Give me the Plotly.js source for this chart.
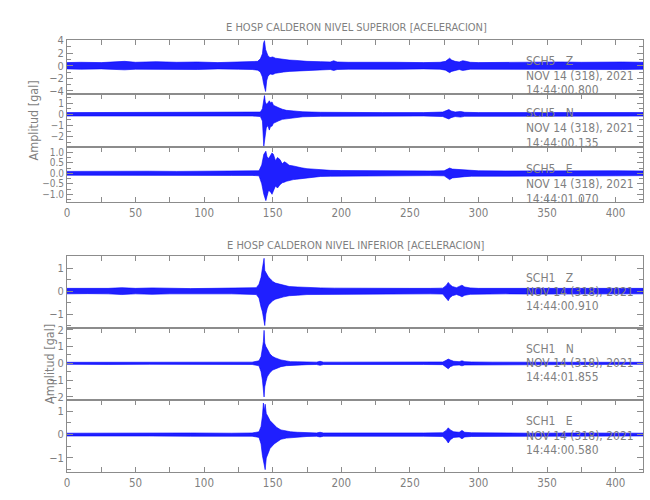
<!DOCTYPE html>
<html>
<head>
<meta charset="utf-8">
<script src="https://cdn.plot.ly/plotly-3.0.1.min.js"></script>
<style>html,body{margin:0;padding:0;background:#fff;}</style>
</head>
<body>
<div id="chart" style="width:650px;height:500px;"></div>
<script>
// ---- Data: envelope (upper / lower extremes) of each trace ----
// SCH5 Z
var t1 = [0,10,25,38,42,50,65,80,95,110,125,135,139,141,142.5,143.3,144,144.8,145.6,146.5,148,150,152,155,158,162,167,175,185,192,194.5,197,205,220,240,260,272,276,278,279,280.5,283,286,288.5,290,294,300,315,330,345,360,375,390,405,420];
var up1 = [0.5,0.55,0.5,0.6,0.7,0.55,0.65,0.55,0.6,0.5,0.55,0.6,0.7,1.1,1.9,3.6,4.0,2.6,2.0,1.6,1.3,1.4,1.2,1.1,1.0,0.9,0.85,0.7,0.65,0.6,0.8,0.6,0.55,0.5,0.55,0.5,0.55,0.7,1.0,1.2,0.9,0.7,0.6,0.8,0.75,0.55,0.5,0.55,0.5,0.55,0.6,0.55,0.6,0.6,0.55];
var lo1 = [-0.5,-0.55,-0.5,-0.6,-0.65,-0.55,-0.6,-0.55,-0.6,-0.5,-0.55,-0.6,-0.7,-1.0,-1.8,-2.8,-3.6,-4.1,-2.4,-1.7,-1.3,-1.4,-1.2,-1.05,-1.0,-0.9,-0.8,-0.7,-0.65,-0.6,-0.75,-0.6,-0.55,-0.5,-0.55,-0.5,-0.55,-0.7,-1.0,-1.1,-0.9,-0.7,-0.6,-0.75,-0.7,-0.55,-0.5,-0.55,-0.5,-0.55,-0.6,-0.55,-0.6,-0.6,-0.55];
// SCH5 N
var t2 = [0,20,40,60,80,100,120,135,141,142.5,143.5,144,144.6,145.3,146.5,147.5,148.5,149.5,150.5,152,154,157,160,165,172,185,200,230,260,274,277,278.5,280,283,287,290,300,330,360,390,420];
var up2 = [0.15,0.15,0.17,0.15,0.15,0.17,0.15,0.15,0.2,0.5,1.2,1.66,1.1,0.9,1.0,1.2,1.0,1.1,0.8,0.7,0.6,0.45,0.35,0.3,0.22,0.18,0.16,0.15,0.15,0.2,0.35,0.42,0.3,0.2,0.25,0.18,0.15,0.15,0.16,0.17,0.16];
var lo2 = [-0.15,-0.15,-0.17,-0.15,-0.15,-0.17,-0.15,-0.15,-0.2,-0.6,-2.85,-2.2,-1.8,-1.2,-1.0,-1.4,-1.05,-1.06,-0.8,-0.7,-0.6,-0.45,-0.35,-0.3,-0.22,-0.18,-0.16,-0.15,-0.15,-0.2,-0.35,-0.42,-0.3,-0.2,-0.25,-0.18,-0.15,-0.15,-0.16,-0.17,-0.16];
// SCH5 E
var t3 = [0,20,40,60,80,100,120,135,140,142,143.5,145,145.8,147,148.5,149.5,150.5,152,153.5,155.3,157,158.5,160,162,165,167.5,171,175,180,185,192,200,215,240,265,275,277.5,279,281,285,290,295,300,320,340,360,380,400,420];
var up3 = [0.09,0.1,0.09,0.1,0.09,0.1,0.1,0.1,0.12,0.4,0.9,1.05,0.8,0.7,0.85,0.97,0.9,0.6,0.75,0.65,0.45,0.55,0.49,0.38,0.35,0.3,0.26,0.22,0.2,0.15,0.14,0.13,0.12,0.11,0.11,0.12,0.2,0.25,0.2,0.18,0.16,0.14,0.12,0.11,0.12,0.11,0.12,0.12,0.11];
var lo3 = [-0.09,-0.1,-0.09,-0.1,-0.09,-0.1,-0.1,-0.1,-0.12,-0.5,-1.0,-1.3,-1.1,-0.8,-0.9,-1.0,-0.85,-0.6,-0.7,-0.54,-0.45,-0.42,-0.38,-0.33,-0.3,-0.28,-0.24,-0.2,-0.18,-0.15,-0.14,-0.13,-0.12,-0.11,-0.11,-0.12,-0.22,-0.3,-0.22,-0.18,-0.16,-0.14,-0.12,-0.11,-0.12,-0.11,-0.12,-0.12,-0.11];
// SCH1 Z
var t4 = [0,15,30,40,50,62,75,90,105,120,132,138,140,141.5,142.5,143.2,143.7,144.2,145,146,147,148,150,152,155,158,162,168,175,185,195,210,230,250,265,274,276.5,278,279,281,284,286.5,288,290,294,300,320,340,360,380,400,420];
var up4 = [0.12,0.11,0.12,0.15,0.12,0.14,0.12,0.11,0.12,0.12,0.13,0.15,0.3,0.6,1.0,1.2,1.43,0.9,0.8,0.7,0.6,0.55,0.42,0.35,0.3,0.25,0.2,0.18,0.15,0.14,0.13,0.12,0.12,0.12,0.12,0.13,0.25,0.38,0.3,0.2,0.15,0.2,0.26,0.18,0.14,0.12,0.12,0.13,0.12,0.13,0.13,0.12];
var lo4 = [-0.12,-0.11,-0.12,-0.15,-0.12,-0.14,-0.12,-0.11,-0.12,-0.12,-0.13,-0.15,-0.3,-0.7,-0.9,-1.0,-1.3,-1.5,-1.0,-0.75,-0.6,-0.55,-0.42,-0.35,-0.3,-0.25,-0.2,-0.18,-0.15,-0.14,-0.13,-0.12,-0.12,-0.12,-0.12,-0.13,-0.3,-0.42,-0.3,-0.2,-0.15,-0.2,-0.25,-0.18,-0.14,-0.12,-0.12,-0.13,-0.12,-0.13,-0.13,-0.12];
// SCH1 N
var t5 = [0,30,60,90,120,135,140,141.5,142.5,143.2,143.7,144.2,145,146,146.8,148,150,152,156,160,163,168,175,182,184.5,187,200,230,260,274,276.5,278,279.5,282,286,288,290,295,310,340,370,400,420];
var up5 = [0.06,0.07,0.06,0.07,0.06,0.07,0.15,0.4,0.9,1.3,1.96,1.2,1.0,0.8,0.74,0.55,0.4,0.32,0.2,0.14,0.1,0.09,0.08,0.07,0.12,0.07,0.07,0.06,0.07,0.08,0.18,0.25,0.2,0.12,0.1,0.15,0.1,0.08,0.07,0.06,0.07,0.06,0.06];
var lo5 = [-0.06,-0.07,-0.06,-0.07,-0.06,-0.07,-0.15,-0.5,-1.0,-1.32,-2.0,-1.4,-1.1,-0.8,-0.73,-0.55,-0.4,-0.32,-0.2,-0.14,-0.1,-0.09,-0.08,-0.07,-0.12,-0.07,-0.07,-0.06,-0.07,-0.08,-0.22,-0.33,-0.2,-0.12,-0.1,-0.15,-0.1,-0.08,-0.07,-0.06,-0.07,-0.06,-0.06];
// SCH1 E
var t6 = [0,30,60,90,120,135,140,141.5,142.5,143.2,143.8,144.5,145.3,146,147,148,149.5,151,153,156,160,163,168,175,182,184.5,187,200,230,260,274,276.5,278,279.5,282,286,288,290,295,310,340,370,400,420];
var up6 = [0.06,0.07,0.06,0.07,0.06,0.07,0.12,0.35,0.8,1.35,1.0,1.3,0.9,0.8,0.72,0.6,0.5,0.4,0.3,0.2,0.15,0.12,0.1,0.08,0.07,0.1,0.07,0.07,0.06,0.07,0.08,0.18,0.29,0.2,0.12,0.1,0.18,0.1,0.08,0.07,0.06,0.07,0.06,0.06];
var lo6 = [-0.06,-0.07,-0.06,-0.07,-0.06,-0.07,-0.12,-0.4,-0.9,-1.0,-1.3,-1.5,-1.0,-0.86,-0.75,-0.6,-0.5,-0.4,-0.3,-0.2,-0.15,-0.12,-0.1,-0.08,-0.07,-0.1,-0.07,-0.07,-0.06,-0.07,-0.08,-0.22,-0.36,-0.22,-0.12,-0.1,-0.18,-0.1,-0.08,-0.07,-0.06,-0.07,-0.06,-0.06];

var stations = ["SCH5\u00a0\u00a0\u00a0Z","SCH5\u00a0\u00a0\u00a0N","SCH5\u00a0\u00a0\u00a0E","SCH1\u00a0\u00a0\u00a0Z","SCH1\u00a0\u00a0\u00a0N","SCH1\u00a0\u00a0\u00a0E"];
var dateLabel = "NOV 14 (318), 2021";
var startTimes = ["14:44:00.800","14:44:00.135","14:44:01.070","14:44:00.910","14:44:01.855","14:44:00.580"];
var titleTop = "E HOSP CALDERON NIVEL SUPERIOR [ACELERACION]";
var titleBottom = "E HOSP CALDERON NIVEL INFERIOR [ACELERACION]";
var yTitle = "Amplitud [gal]";
var xTickVals = [0,25,50,75,100,125,150,175,200,225,250,275,300,325,350,375,400];
var xTickText = ["0","","50","","100","","150","","200","","250","","300","","350","","400"];

// ---- Layout helpers ----
var FONT = "DejaVu Sans Condensed, Liberation Sans Narrow, sans-serif";
var GRAY = "#7f7f7f";
var AX = "#8c8c8c";
var W = 650, H = 500, ML = 67, MR = 7, MT = 40, MB = 28;
var PW = W - ML - MR, PH = H - MT - MB;
function px(x){ return (x - ML) / PW; }
function py(y){ return (MT + PH - y) / PH; }

var sets = [[t1,up1,lo1],[t2,up2,lo2],[t3,up3,lo3],[t4,up4,lo4],[t5,up5,lo5],[t6,up6,lo6]];
var traces = [];
sets.forEach(function(s, i){
  var t = s[0], up = s[1], lo = s[2];
  var xs = t.concat(t.slice().reverse());
  var ys = up.concat(lo.slice().reverse());
  var n = i === 0 ? "" : String(i + 1);
  traces.push({
    x: xs, y: ys, type: "scatter", mode: "lines", fill: "toself",
    fillcolor: "rgba(0,0,255,0.88)",
    line: {color: "#0000ff", width: 0.6},
    xaxis: "x" + n, yaxis: "y" + n, hoverinfo: "skip"
  });
});

var yDomains = [[py(94), py(40)], [py(147), py(94)], [py(201.7), py(147)],
                [py(328.3), py(256)], [py(400), py(328.3)], [py(472), py(400)]];
var yRanges = [[-4.5, 4.1], [-2.9, 1.8], [-1.35, 1.25], [-1.62, 1.53], [-2.18, 2.08], [-1.6, 1.48]];
var yTicks = [[-4,-2,0,2,4], [-3,-2,-1,0,1], [-1,-0.5,0,0.5,1], [-1,0,1], [-2,-1,0,1,2], [-1,0,1]];
var yTickText = [["\u22124","\u22122","0","2","4"], ["\u22123","\u22122","\u22121","0","1"],
                 ["\u22121.0","\u22120.5","0.0","0.5","1.0"], ["\u22121","0","1"],
                 ["\u22122","\u22121","0","1","2"], ["\u22121","0","1"]];
var yMinor = [1, 0.5, 0.25, 0.5, 0.5, 0.5];
var yFont = [11, 10, 10, 11, 11, 11];

var layout = {
  width: W, height: H,
  margin: {l: ML, r: MR, t: MT, b: MB, pad: 0},
  paper_bgcolor: "#ffffff", plot_bgcolor: "#ffffff",
  showlegend: false,
  font: {family: FONT, color: GRAY, size: 11},
  annotations: []
};

for (var i = 0; i < 6; i++) {
  var n = i === 0 ? "" : String(i + 1);
  var isBottom = (i === 2 || i === 5);
  layout["xaxis" + n] = {
    domain: [0, 1], range: [0, 420], anchor: "y" + n,
    side: isBottom ? "bottom" : "top",
    showline: true, linecolor: AX, linewidth: 1,
    mirror: isBottom ? "ticks" : true,
    ticks: "inside", ticklen: 5, tickcolor: AX, tickwidth: 1,
    tickmode: "array", tickvals: xTickVals, ticktext: xTickText,
    showticklabels: isBottom,
    tickfont: {family: FONT, size: 11.5, color: GRAY},
    showgrid: false, zeroline: false, fixedrange: true
  };
  layout["yaxis" + n] = {
    domain: yDomains[i], range: yRanges[i], anchor: "x" + n,
    showline: true, linecolor: AX, linewidth: 1, mirror: "ticks",
    ticks: "inside", ticklen: 6, tickcolor: AX, tickwidth: 1,
    tickmode: "array", tickvals: yTicks[i], ticktext: yTickText[i],
    minor: {ticks: "inside", dtick: yMinor[i], ticklen: 4, tickcolor: AX, tickwidth: 1},
    tickfont: {family: FONT, size: yFont[i], color: GRAY},
    showgrid: false, zeroline: false, fixedrange: true
  };
}

// station labels
var lineY = [[61, 75.5, 89.5], [113, 128, 143], [169, 184, 198.5],
             [278, 292, 306], [349, 363, 377], [421, 436, 449.5]];
for (var k = 0; k < 6; k++) {
  var texts = [stations[k], dateLabel, startTimes[k]];
  for (var j = 0; j < 3; j++) {
    layout.annotations.push({
      xref: "paper", yref: "paper", x: px(524), y: py(lineY[k][j]),
      xanchor: "left", yanchor: "middle", showarrow: false,
      text: texts[j], font: {family: FONT, size: 12, color: GRAY}
    });
  }
}
// panel titles
layout.annotations.push({xref: "paper", yref: "paper", x: px(356), y: py(27), xanchor: "center", yanchor: "middle",
  showarrow: false, text: titleTop, font: {family: FONT, size: 11, color: GRAY}});
layout.annotations.push({xref: "paper", yref: "paper", x: px(356), y: py(245), xanchor: "center", yanchor: "middle",
  showarrow: false, text: titleBottom, font: {family: FONT, size: 11, color: GRAY}});
// y titles
layout.annotations.push({xref: "paper", yref: "paper", x: px(33), y: py(120.5), xanchor: "center", yanchor: "middle",
  showarrow: false, textangle: -90, text: yTitle, font: {family: FONT, size: 12.5, color: GRAY}});
layout.annotations.push({xref: "paper", yref: "paper", x: px(49), y: py(364), xanchor: "center", yanchor: "middle",
  showarrow: false, textangle: -90, text: yTitle, font: {family: FONT, size: 12.5, color: GRAY}});

Plotly.newPlot("chart", traces, layout, {staticPlot: true, displayModeBar: false});
</script>
</body>
</html>
